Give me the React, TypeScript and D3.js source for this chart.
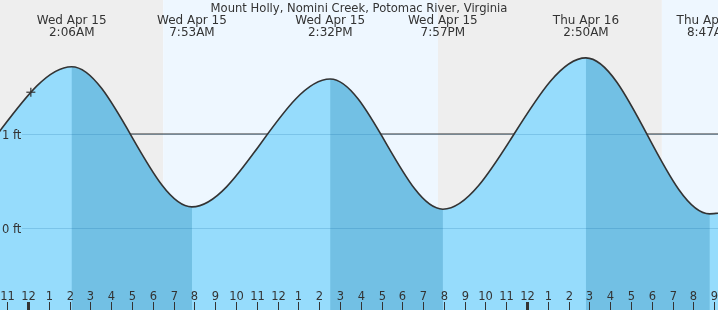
import React from "react";
import * as d3 from "d3";

const W = 718;
const H = 310;

const title = "Mount Holly, Nomini Creek, Potomac River, Virginia";

// Tide extremes (the first two and the last are outside the visible window)
const extremeTimes = [
  "2026-04-14 13:10",
  "2026-04-14 19:24",
  "2026-04-15 02:06",
  "2026-04-15 07:53",
  "2026-04-15 14:32",
  "2026-04-15 19:57",
  "2026-04-16 02:50",
  "2026-04-16 08:47",
  "2026-04-16 15:20",
];
const extremeHeights = [1.6, 0.41, 1.716, 0.225, 1.585, 0.2, 1.81, 0.15, 1.6];
const extremeKinds = ["H", "L", "H", "L", "H", "L", "H", "L", "H"];

// Sun events: night / day bands
const bandStarts = ["2026-04-14 22:40", "2026-04-15 06:30", "2026-04-15 19:43", "2026-04-16 06:29"];
const bandKinds = ["night", "day", "night", "day"];

const domainStart = "2026-04-14 22:39";
const domainEnd = "2026-04-16 09:11";

const gridFeet = [1, 0];
const gridLabels = ["1 ft", "0 ft"];

const nowTime = "2026-04-15 00:08";

const parse = d3.timeParse("%Y-%m-%d %H:%M");

export default function App() {
  const t0 = parse(domainStart)!;
  const t1 = parse(domainEnd)!;
  const x = d3.scaleTime().domain([t0, t1]).range([0, W]);
  const y = d3.scaleLinear().domain([0, 1]).range([228, 134]);

  const pts = extremeTimes.map((s, i) => ({ t: parse(s)!, h: extremeHeights[i], k: extremeKinds[i] }));

  const area = d3
    .area<{ t: Date; h: number }>()
    .x((d) => x(d.t))
    .y0(H)
    .y1((d) => y(d.h))
    .curve(d3.curveMonotoneX);
  const line = d3
    .line<{ t: Date; h: number }>()
    .x((d) => x(d.t))
    .y((d) => y(d.h))
    .curve(d3.curveMonotoneX);

  const areaPath = area(pts) || "";
  const linePath = line(pts) || "";

  const bands = bandStarts.map((s, i) => {
    const a = i === 0 ? 0 : x(parse(s)!);
    const b = i + 1 < bandStarts.length ? x(parse(bandStarts[i + 1])!) : W + 10;
    return { a, b, kind: bandKinds[i] };
  });

  const falling: { a: number; b: number }[] = [];
  for (let i = 0; i < pts.length - 1; i++) {
    if (pts[i].k === "H") falling.push({ a: x(pts[i].t), b: x(pts[i + 1].t) });
  }

  // current-time marker placed on the curve
  const nowX = x(parse(nowTime)!);
  const pathEl = typeof document !== "undefined" ? document.createElementNS("http://www.w3.org/2000/svg", "path") : null;
  let nowY = 88;
  if (pathEl) {
    pathEl.setAttribute("d", linePath);
    const svgTmp = document.createElementNS("http://www.w3.org/2000/svg", "svg");
    svgTmp.appendChild(pathEl);
    document.body.appendChild(svgTmp);
    const len = pathEl.getTotalLength();
    let lo = 0,
      hi = len;
    for (let k = 0; k < 40; k++) {
      const m = (lo + hi) / 2;
      if (pathEl.getPointAtLength(m).x < nowX) lo = m;
      else hi = m;
    }
    nowY = pathEl.getPointAtLength(lo).y;
    document.body.removeChild(svgTmp);
  }

  const ticks = x.ticks(d3.timeHour.every(1)!);
  const fmtHour = d3.timeFormat("%-I");
  const fmtDate = d3.timeFormat("%a %b %-d");
  const fmtTime = d3.timeFormat("%-I:%M%p");

  const visible = pts.filter((p) => p.t >= t0 && p.t <= t1);
  const font = "DejaVu Sans, sans-serif";

  return (
    <svg
      width={W}
      height={H}
      style={{ position: "fixed", left: 0, top: 0, display: "block" }}
      fontFamily={font}
    >
      <defs>
        <clipPath id="water">
          <path d={areaPath} />
        </clipPath>
      </defs>
      {bands.map((b, i) => (
        <rect
          key={i}
          x={b.a}
          y={0}
          width={Math.max(0, b.b - b.a)}
          height={H}
          fill={b.kind === "night" ? "#eeeeee" : "#eef7ff"}
        />
      ))}
      <line x1={22} x2={W} y1={y(1)} y2={y(1)} stroke="#333" strokeWidth={1} />
      <path d={areaPath} fill="#96dcfc" />
      <g clipPath="url(#water)">
        {falling.map((f, i) => (
          <rect key={i} x={f.a} y={0} width={f.b - f.a} height={H} fill="#72c0e4" />
        ))}
      </g>
      {gridFeet.map((g, i) => (
        <g key={i}>
          <line x1={22} x2={W} y1={y(g) + 0.5} y2={y(g) + 0.5} stroke="rgba(0,90,150,0.18)" strokeWidth={1} />
          <text x={2} y={y(g) + 4.5} fontSize={11.5} fill="#333">
            {gridLabels[i]}
          </text>
        </g>
      ))}
      <path d={linePath} fill="none" stroke="#333" strokeWidth={1.6} />
      <g stroke="#333" strokeWidth={1.2}>
        <line x1={nowX - 4.5} x2={nowX + 4.5} y1={nowY} y2={nowY} />
        <line x1={nowX} x2={nowX} y1={nowY - 4.5} y2={nowY + 4.5} />
      </g>
      {ticks.map((t, i) => {
        const xx = Math.round(x(t)) + 0.5;
        const mid = t.getHours() === 0;
        return (
          <g key={i}>
            <line x1={xx} x2={xx} y1={302} y2={H} stroke="#333" strokeWidth={mid ? 3 : 1} />
            <text x={xx} y={300} textAnchor="middle" fontSize={11.5} fill="#333">
              {fmtHour(t)}
            </text>
          </g>
        );
      })}
      {visible.map((p, i) => (
        <g key={i}>
          <text x={x(p.t)} y={24} textAnchor="middle" fontSize={12} fill="#333">
            {fmtDate(p.t)}
          </text>
          <text x={x(p.t)} y={36} textAnchor="middle" fontSize={12} fill="#333">
            {fmtTime(p.t)}
          </text>
        </g>
      ))}
      <text x={W / 2} y={11.5} textAnchor="middle" fontSize={11.6} fill="#333">
        {title}
      </text>
    </svg>
  );
}
